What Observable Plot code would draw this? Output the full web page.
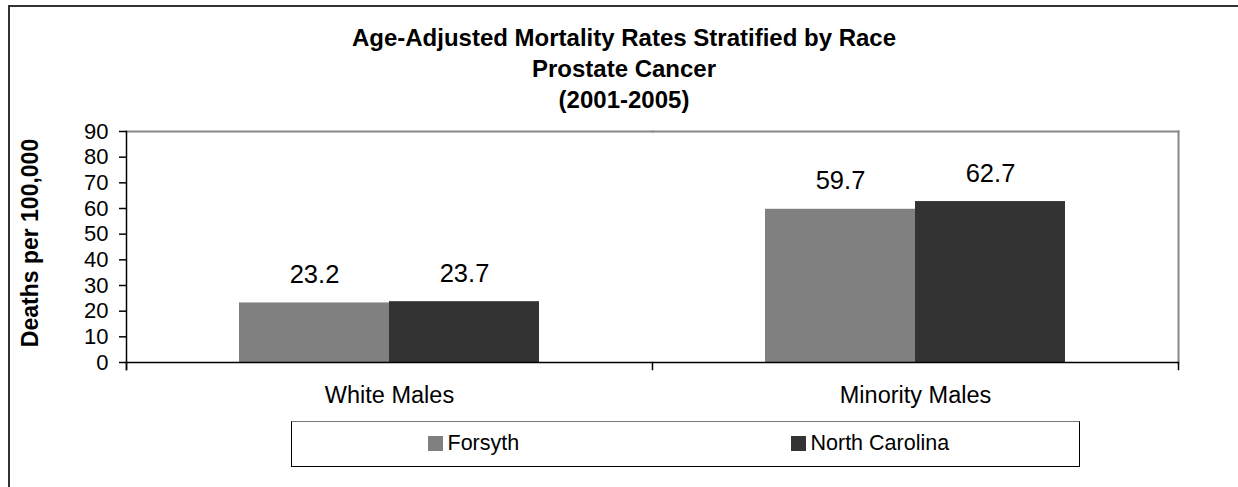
<!DOCTYPE html>
<html>
<head>
<meta charset="utf-8">
<script src="https://cdn.jsdelivr.net/npm/d3@7"></script>
<script src="https://cdn.jsdelivr.net/npm/@observablehq/plot@0.6"></script>
<style>
  html, body { margin: 0; padding: 0; background: #fff; overflow: hidden; width: 1238px; height: 487px; }
  body { position: relative; font-family: Arial, "Liberation Sans", sans-serif; color: #000; }
  #outer { position: absolute; left: 8px; top: 5px; width: 1300px; height: 600px; border: 2px solid #333; box-sizing: border-box; }
  #title { position: absolute; left: 0; top: 21.5px; width: 1248px; text-align: center; font-weight: bold; font-size: 24px; line-height: 31px; }
  #ylabel { position: absolute; left: 29.5px; top: 243px; transform: translate(-50%, -50%) rotate(-90deg); white-space: nowrap; font-weight: bold; font-size: 23px; line-height: 23px; }
  #chart { position: absolute; left: 0; top: 100px; }
  #legend { position: absolute; left: 291px; top: 421px; width: 789px; height: 46px; box-sizing: border-box; border: 1.5px solid #000; border-top-color: #777; }
  .item { position: absolute; top: 0; height: 43px; display: flex; align-items: center; font-size: 21.5px; }
  .sw { width: 15px; height: 15px; margin-right: 5px; }
</style>
</head>
<body>
<div id="outer"></div>
<div id="title">Age-Adjusted Mortality Rates Stratified by Race<br>Prostate Cancer<br>(2001-2005)</div>
<div id="ylabel">Deaths per 100,000</div>
<div id="chart"></div>
<div id="legend"></div>
<script>
const categories = ["White Males", "Minority Males"];
const seriesNames = ["Forsyth", "North Carolina"];
const forsythValues = [23.2, 59.7];
const northCarolinaValues = [23.7, 62.7];
const yTicks = [0, 10, 20, 30, 40, 50, 60, 70, 80, 90];
const seriesColors = ["#808080", "#333333"];

const rows = categories.flatMap((c, i) => [
  {category: c, series: seriesNames[0], value: forsythValues[i]},
  {category: c, series: seriesNames[1], value: northCarolinaValues[i]}
]);

const H = 310, MT = 31, MB = 48;
const plotH = H - MT - MB;

const chart = Plot.plot({
  width: 1238,
  height: H,
  marginLeft: 125,
  marginRight: 60,
  marginTop: MT,
  marginBottom: MB,
  style: {fontFamily: "Arial, 'Liberation Sans', sans-serif", background: "transparent", color: "#000", overflow: "visible"},
  fx: {domain: categories, padding: 0, label: null},
  x: {domain: seriesNames, paddingInner: 0, paddingOuter: 0.743, axis: null},
  y: {domain: [0, 90], axis: null},
  color: {domain: seriesNames, range: seriesColors},
  marks: [
    Plot.frame({anchor: "top", stroke: "#888", strokeWidth: 2}),
    Plot.frame({anchor: "right", facetAnchor: "right", stroke: "#888", strokeWidth: 2}),
    Plot.barY(rows, {fx: "category", x: "series", y: "value", fill: "series"}),
    Plot.text(rows, {fx: "category", x: "series", y: "value", text: d => d.value.toFixed(1), dy: -28, fontSize: 25.5, fill: "#000"}),
    Plot.ruleY([0], {stroke: "#000", strokeWidth: 1.5}),
    Plot.frame({anchor: "left", facetAnchor: "left", stroke: "#000", strokeWidth: 1.5, insetBottom: -7}),
    Plot.frame({anchor: "left", stroke: "#000", strokeWidth: 1.5, insetTop: plotH, insetBottom: -7}),
    Plot.frame({anchor: "right", facetAnchor: "right", stroke: "#000", strokeWidth: 1.5, insetTop: plotH, insetBottom: -7}),
    Plot.axisY({ticks: yTicks, tickFormat: d => String(d), tickSize: 7, tickPadding: 11, fontSize: 22, label: null, stroke: "#000", strokeWidth: 1.5}),
    Plot.axisFx({anchor: "bottom", tickSize: 0, tickPadding: 24, fontSize: 23.5, label: null})
  ]
});
document.getElementById("chart").appendChild(chart);

const legend = document.getElementById("legend");
const itemLefts = [135.5, 498.5];
seriesNames.forEach((name, i) => {
  const item = document.createElement("div");
  item.className = "item";
  item.style.left = itemLefts[i] + "px";
  const sw = document.createElement("div");
  sw.className = "sw";
  sw.style.background = seriesColors[i];
  const label = document.createElement("span");
  label.textContent = name;
  item.appendChild(sw);
  item.appendChild(label);
  legend.appendChild(item);
});
</script>
</body>
</html>
